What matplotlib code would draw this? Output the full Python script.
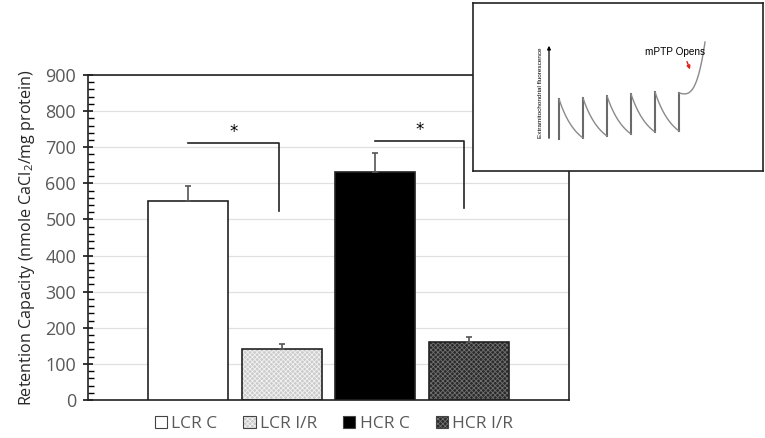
import numpy as np
import matplotlib.pyplot as plt
from matplotlib.patches import Patch, FancyArrowPatch

plt.rcParams['font.family'] = ['Open Sans', 'DejaVu Sans']
plt.rcParams['mathtext.fontset'] = 'custom'
plt.rcParams['mathtext.rm'] = 'Open Sans'
plt.rcParams['hatch.linewidth'] = 0.6

# bar data
groups = ['LCR C', 'LCR I/R', 'HCR C', 'HCR I/R']
capacity = [550, 140, 630, 160]
capacity_err = [43, 14, 53, 15]
face_colors = ['white', '#cbcbcb', 'black', '#2a2a2a']
hatch_colors = [None, '#f2f2f2', None, '#707070']

# significance brackets: (x start, x end, top, bottom of drop line)
bracket_x0 = [0.0, 2.0]
bracket_x1 = [0.97, 2.95]
bracket_top = [712, 717]
bracket_low = [523, 532]

# inset schematic (inset pixel units)
spike_x = [86, 110, 134, 158, 182, 206]
spike_peak = [96, 95, 93, 91, 89, 90]
spike_base = [136, 135, 133, 131, 129, 128]

fig = plt.figure(figsize=(7.65, 4.38), dpi=100)
ax = fig.add_axes([88/765, 1-400/438, (569-88)/765, (400-75)/438])

x = np.arange(len(groups))
w = 0.856
for i in range(len(groups)):
    if hatch_colors[i]:
        ax.bar(x[i], capacity[i], width=w, color=face_colors[i], hatch='xxxxxxx',
               edgecolor=hatch_colors[i], linewidth=0, zorder=2)
        ax.bar(x[i], capacity[i], width=w, fill=False, edgecolor='#222222', linewidth=1.2, zorder=3)
    else:
        ax.bar(x[i], capacity[i], width=w, color=face_colors[i], edgecolor='#222222',
               linewidth=1.2, zorder=3)

ax.errorbar(x, capacity, yerr=[np.zeros(len(groups)), capacity_err], fmt='none',
            ecolor='#555555', elinewidth=1.2, capsize=2.5, capthick=1.2, zorder=4)

for i in range(len(bracket_x0)):
    ax.plot([bracket_x0[i], bracket_x1[i], bracket_x1[i]],
            [bracket_top[i], bracket_top[i], bracket_low[i]],
            color='#222222', lw=1.2, zorder=4)
    ax.text((bracket_x0[i] + bracket_x1[i]) / 2, bracket_top[i] + 6, '*',
            ha='center', va='bottom', fontsize=12, family='DejaVu Sans')

ax.set_xlim(-1.07, 4.07)
ax.set_ylim(0, 900)
ax.set_yticks(np.arange(0, 901, 100))
ax.set_yticks(np.arange(0, 901, 20), minor=True)
ax.set_xticks([])
ax.tick_params(axis='y', which='major', direction='inout', length=7, width=1.1,
               labelsize=13, labelcolor='#595959', pad=5)
ax.tick_params(axis='y', which='minor', direction='in', length=4, width=1.0)
ax.yaxis.grid(True, color='#e0e0e0', lw=0.9, zorder=0)
ax.set_axisbelow(True)
for s in ax.spines.values():
    s.set_color('#222222')
    s.set_linewidth(1.2)
ax.set_ylabel(r'Retention Capacity (nmole CaCl$_2$/mg protein)', fontsize=11.6,
              color='#262626', labelpad=6)

handles = []
for i in range(len(groups)):
    outline = Patch(facecolor='none', edgecolor='#444444', linewidth=0.8)
    if hatch_colors[i]:
        handles.append((Patch(facecolor=face_colors[i], hatch='xxxxxxx',
                              edgecolor=hatch_colors[i], linewidth=0), outline))
    else:
        handles.append((Patch(facecolor=face_colors[i], linewidth=0), outline))
fig.legend(handles, groups, loc='center', bbox_to_anchor=(334/765, 1-424/438), ncol=4,
           frameon=False, fontsize=12.5, handlelength=0.7, handleheight=0.7,
           handletextpad=0.25, columnspacing=1.5, labelcolor='#595959')

# inset schematic
axi = fig.add_axes([473/765, 1-171/438, (763-473)/765, (171-3)/438], zorder=5)
axi.set_xlim(0, 290)
axi.set_ylim(168, 0)
axi.set_xticks([])
axi.set_yticks([])
for s in axi.spines.values():
    s.set_color('#222222')
    s.set_linewidth(1.2)

line_c = '#8a8a8a'
for i in range(len(spike_x)):
    axi.plot([spike_x[i], spike_x[i]], [spike_base[i], spike_peak[i]], color='#6a6a6a', lw=1.5)
for i in range(len(spike_x) - 1):
    t = np.linspace(0, 1, 40)
    k = 1.4
    f = (1 - np.exp(-k * t)) / (1 - np.exp(-k))
    xs = spike_x[i] + t * (spike_x[i + 1] - spike_x[i])
    ys = spike_peak[i] + f * (spike_base[i + 1] - spike_peak[i])
    axi.plot(xs, ys, color=line_c, lw=1.0)
# final opening curve
t = np.linspace(0, 1, 60)
xs = spike_x[-1] + 26 * t
ys = spike_peak[-1] + 6 * t - 57 * t ** 3.2
axi.plot(xs, ys, color=line_c, lw=1.0)

axi.add_patch(FancyArrowPatch((76, 138), (76, 40), arrowstyle='-|>', mutation_scale=5,
                              color='black', lw=0.9))
axi.text(67, 90, 'Extramitochondrial fluorescence', rotation=90, ha='center', va='center',
         fontsize=4.6, family='Liberation Sans')
axi.text(202, 49, 'mPTP Opens', ha='center', va='center', fontsize=7.2, family='Liberation Sans')
axi.add_patch(FancyArrowPatch((213, 56), (218, 69), arrowstyle='-|>', mutation_scale=5,
                              color='#e0201a', lw=1.0))

fig.savefig('out.png', dpi=100)
